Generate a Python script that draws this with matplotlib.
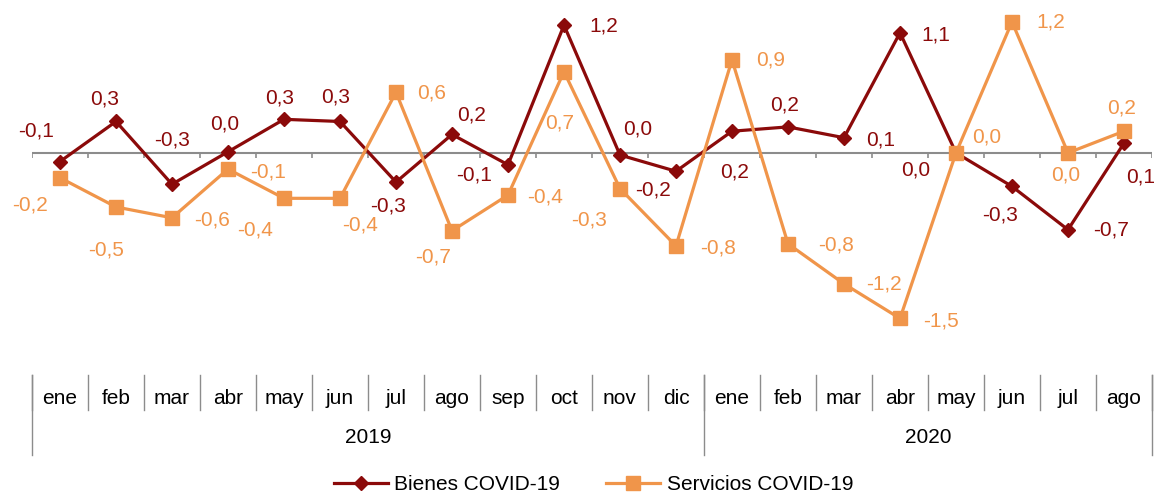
import numpy as np
import matplotlib.pyplot as plt

plt.rcParams['font.family'] = ['Liberation Sans', 'DejaVu Sans']

# data
months = ["ene", "feb", "mar", "abr", "may", "jun", "jul", "ago", "sep", "oct", "nov", "dic",
          "ene", "feb", "mar", "abr", "may", "jun", "jul", "ago"]
years = ["2019", "2020"]
year_months = [12, 8]

bienes = [-0.08, 0.29, -0.29, 0.01, 0.31, 0.29, -0.27, 0.17, -0.11, 1.18,
          -0.02, -0.17, 0.20, 0.24, 0.14, 1.11, 0.0, -0.31, -0.71, 0.09]
servicios = [-0.23, -0.50, -0.60, -0.15, -0.42, -0.42, 0.56, -0.72, -0.39, 0.75,
             -0.33, -0.86, 0.86, -0.84, -1.21, -1.53, 0.0, 1.21, 0.0, 0.20]

bienes_lbl = ["-0,1", "0,3", "-0,3", "0,0", "0,3", "0,3", "-0,3", "0,2", "-0,1", "1,2",
              "0,0", "-0,2", "0,2", "0,2", "0,1", "1,1", "0,0", "-0,3", "-0,7", "0,1"]
servicios_lbl = ["-0,2", "-0,5", "-0,6", "-0,1", "-0,4", "-0,4", "0,6", "-0,7", "-0,4", "0,7",
                 "-0,3", "-0,8", "0,9", "-0,8", "-1,2", "-1,5", "0,0", "1,2", "0,0", "0,2"]

# label offsets in pixels (dx, dy)
bienes_off = [(-24, 31), (-11, 22), (0, 44), (-3, 28), (-4, 21), (-4, 24), (-8, -24), (20, 19),
              (-34, -10), (40, -1), (18, 26), (-23, -19), (3, -41), (-3, 22), (37, -2), (36, -2),
              (-40, -17), (-12, -29), (43, 0), (17, -34)]
servicios_off = [(-30, -27), (-10, -43), (40, -2), (40, -3), (-29, -32), (20, -27), (36, -1),
                 (-19, -26), (37, -2), (-4, -51), (-31, -31), (42, -2), (39, 0), (48, -1),
                 (40, 0), (41, -3), (31, 16), (39, 0), (-2, -22), (-2, 23)]

c_bienes = "#8B0A0A"
c_serv = "#F0954A"
axis_grey = "#8C8C8C"
fs = 15

x = np.arange(len(months))

fig = plt.figure(figsize=(11.57, 4.94), dpi=100)
ax = fig.add_axes([32 / 1157, 1 - 365 / 494, 1120 / 1157, 355 / 494])

ax.plot(x, bienes, color=c_bienes, lw=2.3, marker="D", ms=7.5, label="Bienes COVID-19", zorder=3)
ax.plot(x, servicios, color=c_serv, lw=2.3, marker="s", ms=9.5, label="Servicios COVID-19", zorder=4)

for i in range(len(x)):
    ax.annotate(bienes_lbl[i], (x[i], bienes[i]), xytext=bienes_off[i], textcoords="offset pixels",
                ha="center", va="center", fontsize=fs, color=c_bienes)
    ax.annotate(servicios_lbl[i], (x[i], servicios[i]), xytext=servicios_off[i], textcoords="offset pixels",
                ha="center", va="center", fontsize=fs, color=c_serv)

ax.set_xlim(-0.5, len(months) - 0.5)
ax.set_ylim(-1.96, 1.32)
ax.axhline(0, color=axis_grey, lw=1.5, zorder=1)
for s in ax.spines.values():
    s.set_visible(False)
ax.set_xticks([])
ax.set_yticks([])

# small tick marks on the zero line
ax.vlines(np.arange(len(months) + 1) - 0.5, -0.05, 0, color=axis_grey, lw=1.2, zorder=1)

# category labels below the plot
tr = ax.get_xaxis_transform()
for i, m in enumerate(months):
    ax.text(i, -0.093, m, transform=tr, ha="center", va="center", fontsize=fs)
for b in np.arange(len(months) + 1) - 0.5:
    ax.plot([b, b], [-0.028, -0.127], transform=tr, color=axis_grey, lw=1.0, clip_on=False)

start = 0
for yname, n in zip(years, year_months):
    ax.text(start + n / 2 - 0.5, -0.203, yname, transform=tr, ha="center", va="center", fontsize=fs)
    start += n
edges = np.concatenate([[0], np.cumsum(year_months)]) - 0.5
for b in edges:
    ax.plot([b, b], [-0.028, -0.2535], transform=tr, color=axis_grey, lw=1.0, clip_on=False)

fig.legend(loc="lower center", bbox_to_anchor=(0.513, -0.038), ncol=2, frameon=False,
           fontsize=fs, handlelength=2.6, columnspacing=2.2, handletextpad=0.3)

fig.savefig("out.png", dpi=100)
